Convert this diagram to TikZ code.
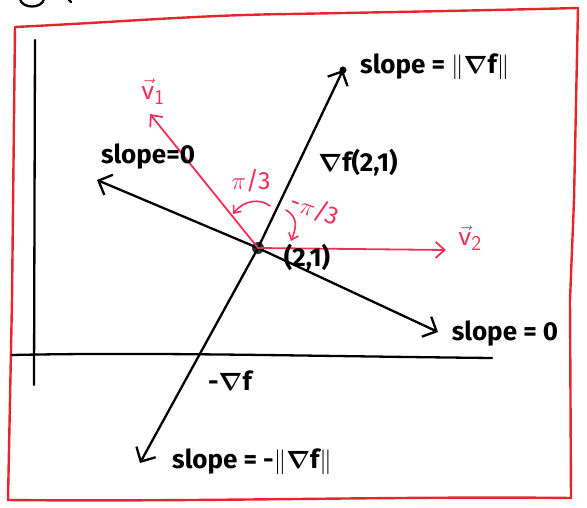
\documentclass[tikz,border=0pt]{standalone}
\usepackage{amsmath}
\usepackage{fontspec}
\setmainfont{Fira Sans}
\usetikzlibrary{arrows.meta}
\definecolor{framered}{RGB}{232,36,44}
\definecolor{vecred}{RGB}{240,48,88}
\definecolor{dotcol}{RGB}{28,58,52}
\newcommand{\nablasym}{$\boldsymbol{\nabla}$}
\begin{document}
\begin{tikzpicture}[x=1pt,y=-1pt,
 ink/.style={line width=2.3pt, line cap=round, line join=round},
 blackarrow/.style={ink, -{Straight Barb[length=11pt,width=22pt,line width=2.3pt]}},
 redarrow/.style={line width=1.8pt, line cap=round, vecred, -{Straight Barb[length=9pt,width=16pt,line width=1.8pt]}},
 thinred/.style={line width=1.6pt, line cap=round, vecred, -{Straight Barb[length=6pt,width=10pt,line width=1.6pt]}},
 lbl/.style={font=\fontsize{26}{28}\selectfont\bfseries, inner sep=0pt},
 rlbl/.style={font=\fontsize{25}{27}\selectfont, inner sep=0pt, text=vecred},
 vlbl/.style={font=\fontsize{30}{32}\selectfont, inner sep=0pt, text=vecred},
]
\useasboundingbox (0,0) rectangle (587,508);
% cut-off circle at the top
\draw[ink] (20,-1) .. controls (22,9) and (42,9) .. (44,-1);
\draw[ink] (69,0) -- (71,2);
% red frame
\draw[framered, line width=2.4pt, line join=round]
  (15,27) .. controls (120,22) and (200,15) .. (290,14)
  .. controls (400,12) and (500,10) .. (578,8)
  -- (574,200) -- (570,300) -- (571,498)
  .. controls (400,496) and (200,502) .. (8,500)
  -- (12,300) -- (15,27) -- cycle;
% axes
\coordinate (yt) at (35,40);
\coordinate (yb) at (34,385);
\coordinate (xl) at (12,355);
\coordinate (xr) at (492,358);
\draw[ink] (yt) -- (yb);
\draw[ink] (xl) .. controls (150,352) and (300,356) .. (xr);
% point
\node[circle, fill=dotcol, minimum size=12pt, inner sep=0pt] (P) at (258,248) {};
% end points
\coordinate (gpos) at (343,70);
\coordinate (gneg) at (140,463);
\coordinate (lneg) at (97,180);
\coordinate (lpos) at (438,332);
\coordinate (v1) at (150,114);
\coordinate (v2) at (446,250);
% black arrows
\draw[blackarrow] (P.center) -- (gpos);
\fill (gpos) circle (3.5pt);
\draw[blackarrow] (P.center) -- (gneg);
\draw[blackarrow] (P.center) -- (lneg);
\draw[blackarrow] (P.center) -- (lpos);
% red vectors
\draw[redarrow] (P.center) -- (v1);
\draw[redarrow] (P.center) -- (v2);
% angle arrows
\coordinate (a1s) at (270,206);
\coordinate (a1e) at (233,214);
\draw[thinred] (a1s) .. controls (260,198) and (244,200) .. (a1e);
\coordinate (a2s) at (286,210);
\coordinate (a2e) at (291,241);
\draw[thinred] (a2s) .. controls (299,218) and (296,228) .. (a2e);
% labels
\node[lbl, anchor=west] (ltop) at (360,67) {slope = $\|$\nablasym f$\|$};
\node[lbl] (lleft) at (148,157) {slope=0};
\node[lbl] (lright) at (505,334) {slope = 0};
\node[lbl] (lbot) at (252,462) {slope = -$\|$\nablasym f$\|$};
\node[lbl] (lgrad) at (358,163) {\nablasym f(2,1)};
\node[lbl] (lpt) at (307,258) {(2,1)};
\node[lbl] (lneg) at (230,381) {-\nablasym f};
\node[vlbl] (lv1) at (153,92) {$\vec{\mathsf{v}}_{\mathsf{1}}$};
\node[vlbl] (lv2) at (470,238) {$\vec{\mathsf{v}}_{\mathsf{2}}$};
\node[rlbl] (lpi) at (251,181) {$\pi$/3};
\node[rlbl, rotate=-20] (lmpi) at (315,209) {-$\pi$/3};
\end{tikzpicture}
\end{document}
